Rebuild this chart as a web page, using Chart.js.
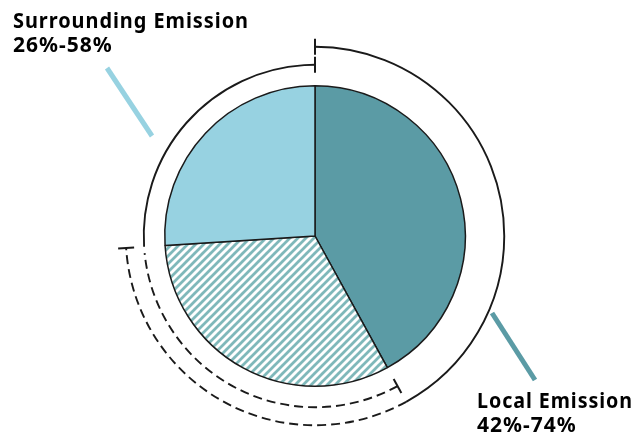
<!DOCTYPE html>
<html>
<head>
<meta charset="utf-8">
<script src="https://cdn.jsdelivr.net/npm/chart.js@4.4.1/dist/chart.umd.min.js"></script>
<style>
  html, body { margin: 0; padding: 0; background: #fff; }
  #wrap { width: 636px; height: 438px; position: relative; }
</style>
</head>
<body>
<div id="wrap"><canvas id="myChart" width="636" height="438"></canvas></div>
<script>
// slices, clockwise from 12 o'clock
const categories = ["Local Emission", "Uncertain", "Surrounding Emission"];
const shares = [42, 32, 26];
// ranges shown by the brackets around the pie
const localRange = [42, 74];
const surroundingRange = [26, 58];
const labelLines = {
  local: ["Local Emission", "42%-74%"],
  surrounding: ["Surrounding Emission", "26%-58%"],
};

const localColor = "#5b9ba5";
const surroundColor = "#97d2e1";

const makeHatch = () => {
  const s = 8;
  const c = document.createElement("canvas");
  c.width = s;
  c.height = s;
  const g = c.getContext("2d");
  g.fillStyle = "#ffffff";
  g.fillRect(0, 0, s, s);
  g.strokeStyle = "#7fb8ba";
  g.lineWidth = 2.8;
  g.beginPath();
  g.moveTo(0, s);
  g.lineTo(s, 0);
  g.moveTo(-2, 2);
  g.lineTo(2, -2);
  g.moveTo(s - 2, s + 2);
  g.lineTo(s + 2, s - 2);
  g.stroke();
  return g.createPattern(c, "repeat");
};

const ctx = document.getElementById("myChart").getContext("2d");

// percent (clockwise from top) -> canvas angle
const ang = (p) => -Math.PI / 2 + (p / 100) * Math.PI * 2;

const bracketPlugin = {
  id: "brackets",
  afterDraw(chart) {
    const arc = chart.getDatasetMeta(0).data[0];
    const cx = arc.x, cy = arc.y, r = arc.outerRadius;
    const c = chart.ctx;
    const rIn = r + 21;
    const rOut = r + 39;

    const ring = (radius, from, to, dashed) => {
      c.save();
      c.strokeStyle = "#1a1a1a";
      c.lineWidth = 1.9;
      c.setLineDash(dashed ? [9, 5] : []);
      c.beginPath();
      c.arc(cx, cy, radius, ang(from), ang(to));
      c.stroke();
      c.restore();
    };
    const tick = (radius, p) => {
      const a = ang(p);
      const dx = Math.cos(a), dy = Math.sin(a);
      c.save();
      c.strokeStyle = "#1a1a1a";
      c.lineWidth = 2;
      c.beginPath();
      c.moveTo(cx + dx * (radius - 8), cy + dy * (radius - 8));
      c.lineTo(cx + dx * (radius + 8), cy + dy * (radius + 8));
      c.stroke();
      c.restore();
    };

    // outer ring: local emission, clockwise from top
    ring(rOut, 0, localRange[0], false);
    ring(rOut, localRange[0], localRange[1], true);
    tick(rOut, 0);
    tick(rOut, localRange[1]);

    // inner ring: surrounding emission, counter-clockwise from top
    ring(rIn, 100 - surroundingRange[0], 100, false);
    ring(rIn, 100 - surroundingRange[1], 100 - surroundingRange[0] - 0.6, true);
    tick(rIn, 0);
    tick(rIn, 100 - surroundingRange[1]);

    // leader lines
    const leader = (color, x1, y1, x2, y2) => {
      c.save();
      c.strokeStyle = color;
      c.lineWidth = 5;
      c.beginPath();
      c.moveTo(cx + x1, cy + y1);
      c.lineTo(cx + x2, cy + y2);
      c.stroke();
      c.restore();
    };
    leader(surroundColor, -163, -100, -208, -168);
    leader(localColor, 177, 77, 220, 144);

    // labels
    c.save();
    c.fillStyle = "#000";
    c.font = "bold 21px 'Noto Sans'";
    c.textBaseline = "alphabetic";
    c.letterSpacing = "1px";
    c.fillText(labelLines.surrounding[0], 13, 28, 236);
    c.fillText(labelLines.surrounding[1], 13, 52, 100);
    c.fillText(labelLines.local[0], 477, 408, 156);
    c.fillText(labelLines.local[1], 477, 432, 100);
    c.restore();
  },
};

new Chart(ctx, {
  type: "pie",
  data: {
    labels: categories,
    datasets: [
      {
        data: shares,
        backgroundColor: [localColor, makeHatch(), surroundColor],
        borderColor: "#1a1a1a",
        borderWidth: 1.5,
      },
    ],
  },
  options: {
    responsive: false,
    animation: false,
    layout: {
      padding: { left: 164, right: 170, top: 85, bottom: 51 },
    },
    plugins: {
      legend: { display: false },
      tooltip: { enabled: false },
    },
  },
  plugins: [bracketPlugin],
});
</script>
</body>
</html>
